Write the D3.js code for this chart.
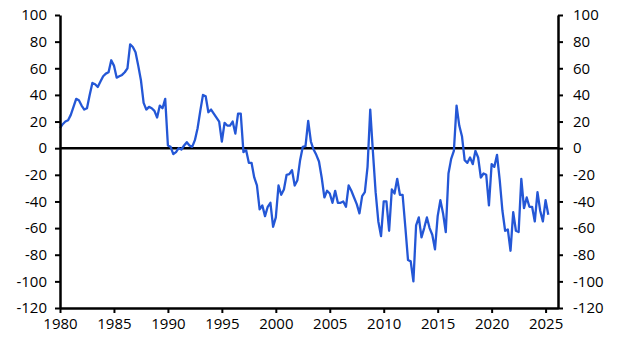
<!DOCTYPE html>
<html><head><meta charset="utf-8">
<script src="https://cdn.jsdelivr.net/npm/d3@7"></script>
<style>
body{margin:0;background:#fff;}
svg text{font-family:"Open Sans",sans-serif;font-size:15px;fill:#000;}
</style></head>
<body><svg id="c" width="627" height="352"></svg>
<script>
const startYear = 1980;
const values = [
 15,18,20,21, 25,31,37,36, 32,29,30,40, 49,48,46,50, 54,56,57,66, 62,53,54,55,
 57,60,78,76, 72,62,51,34, 29,31,30,28, 23,32,30,37, 2,1,-4.5,-3, 0,-1,2,4.5,
 2,1,6,15, 28,40,39,27, 29,26,23,20, 5,19,17,17, 20,11,26,26, -3,-1.5,-11,-11,
 -22,-28,-46,-43, -51,-44,-41,-59, -52,-28,-35,-31, -20,-19.5,-16.5,-28, -24,-9,1,1.5,
 20.5,5,-1,-5, -10,-22,-37,-32, -34,-41,-32,-41, -41,-40,-44,-28, -32,-37,-42,-49,
 -36,-33,-14,29, -3,-33,-55,-66, -40,-40,-62,-31, -34,-23,-35,-35, -59,-84,-85,-100,
 -58,-52,-67,-60, -52,-60,-65,-76, -51,-39,-49,-63, -19,-8,-2,32, 17,9,-9,-11,
 -7,-12,-2,-7, -22,-19,-20,-43, -12,-14,-5,-24, -47,-62,-61,-77, -48,-62,-63,-23,
 -45,-37,-44,-44, -55,-33,-47,-55, -39,-50
];
const dates = values.map((v,i)=>startYear + i/4);
const xTicks = [1980,1985,1990,1995,2000,2005,2010,2015,2020,2025];
const yTicks = [-120,-100,-80,-60,-40,-20,0,20,40,60,80,100];

const W=627,H=352, m={l:60,r:69,t:15,b:44};
const svg=d3.select("#c");
const x=d3.scaleLinear().domain([1980,2026.15]).range([m.l,W-m.r]);
const y=d3.scaleLinear().domain([-120,100]).range([H-m.b,m.t]);
const fmt = d => String(d).replace("\u2212","-");

// zero line
svg.append("line").attr("x1",x.range()[0]).attr("x2",x.range()[1])
  .attr("y1",y(0)).attr("y2",y(0)).attr("stroke","#000").attr("stroke-width",2.5);

// series
const line=d3.line().x((d,i)=>x(dates[i])).y(d=>y(d));
svg.append("path").datum(values).attr("d",line).attr("fill","none")
  .attr("stroke","#2457d6").attr("stroke-width",2.3).attr("stroke-linejoin","round");

function styleAxis(g){
  g.selectAll(".domain").attr("stroke","#000").attr("stroke-width",2.5);
  g.selectAll(".tick line").attr("stroke","#000").attr("stroke-width",2);
  g.selectAll("text").attr("font-family","Open Sans").attr("font-size",15);
}
const gl=svg.append("g").attr("transform",`translate(${m.l},0)`)
  .call(d3.axisLeft(y).tickValues(yTicks).tickSize(5).tickSizeOuter(0).tickPadding(8).tickFormat(fmt));
styleAxis(gl);
const gr=svg.append("g").attr("transform",`translate(${W-m.r},0)`)
  .call(d3.axisRight(y).tickValues(yTicks).tickSize(5).tickSizeOuter(0).tickPadding(10).tickFormat(fmt));
styleAxis(gr);
const gb=svg.append("g").attr("transform",`translate(0,${H-m.b})`)
  .call(d3.axisBottom(x).tickValues(xTicks).tickSize(5).tickSizeOuter(0).tickPadding(5).tickFormat(d3.format("d")));
styleAxis(gb);
</script></body></html>
